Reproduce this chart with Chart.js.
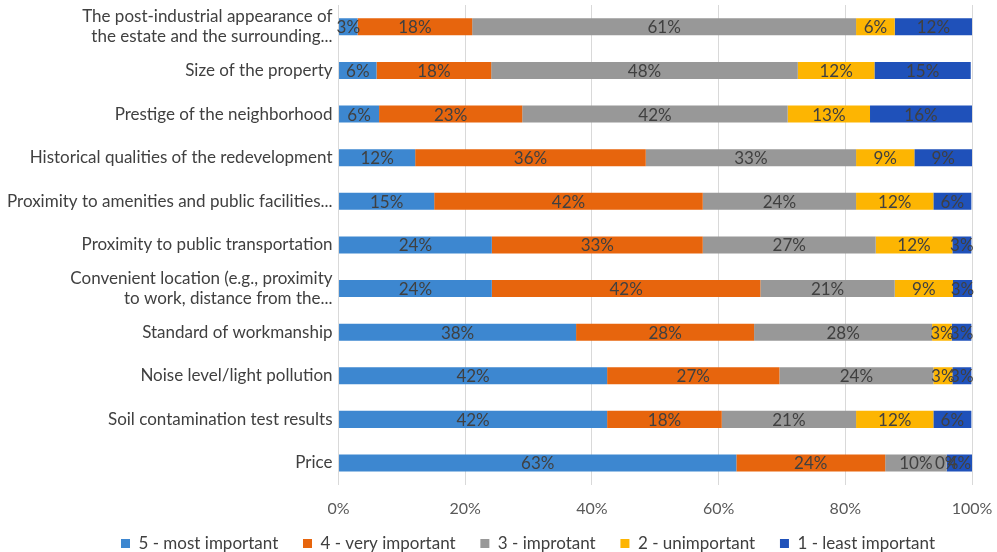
<!DOCTYPE html>
<html>
<head>
<meta charset="utf-8">
<script src="https://cdn.jsdelivr.net/npm/chart.js@4.4.1/dist/chart.umd.min.js"></script>
<style>
  html, body { margin: 0; padding: 0; background: #fff; }
  #wrap { width: 997px; height: 552px; position: relative; }
</style>
</head>
<body>
<div id="wrap"><canvas id="chart"></canvas></div>
<script>
// categories, top to bottom
const categories = [
  ['The post-industrial appearance of', 'the estate and the surrounding...'],
  'Size of the property',
  'Prestige of the neighborhood',
  'Historical qualities of the redevelopment',
  'Proximity to amenities and public facilities...',
  'Proximity to public transportation',
  ['Convenient location (e.g., proximity', 'to work, distance from the...'],
  'Standard of workmanship',
  'Noise level/light pollution',
  'Soil contamination test results',
  'Price'
];
const seriesNames = ['5 - most important', '4 - very important', '3 - improtant', '2 - unimportant', '1 - least important'];
const seriesColors = ['#3D87D0', '#E7650D', '#989898', '#FDB502', '#1F51BA'];

// percentages
const mostImportant  = [3.0, 6.0, 6.4, 12.1, 15.1, 24.2, 24.2, 37.5, 42.4, 42.4, 62.8];
const veryImportant  = [18.1, 18.1, 22.6, 36.4, 42.4, 33.3, 42.4, 28.1, 27.2, 18.1, 23.5];
const important      = [60.6, 48.4, 41.9, 33.2, 24.2, 27.3, 21.2, 28.1, 24.3, 21.2, 9.7];
const unimportant    = [6.1, 12.1, 13.0, 9.2, 12.2, 12.1, 9.2, 3.1, 3.0, 12.2, 0];
const leastImportant = [12.2, 15.2, 16.1, 9.1, 6.0, 3.0, 3.0, 3.1, 3.0, 6.0, 4.0];
const xTicks = [0, 20, 40, 60, 80, 100];

const allSeries = [mostImportant, veryImportant, important, unimportant, leastImportant];
const FONT = 'Lato, "Open Sans", sans-serif';

const barLabels = {
  id: 'barLabels',
  afterDatasetsDraw(chart) {
    const ctx = chart.ctx;
    ctx.save();
    ctx.font = '17px ' + FONT;
    ctx.fillStyle = '#404040';
    ctx.textAlign = 'center';
    ctx.textBaseline = 'middle';
    chart.data.datasets.forEach((ds, i) => {
      const meta = chart.getDatasetMeta(i);
      meta.data.forEach((el, j) => {
        const p = el.getCenterPoint();
        ctx.fillText(Math.round(ds.data[j]) + '%', p.x, p.y + 1);
      });
    });
    ctx.restore();
  }
};

// the legend sits a little right of centre in the original
const legendShift = {
  id: 'legendShift',
  afterLayout(chart) {
    chart.legend.left += 29;
    chart.legend.right += 29;
  }
};

new Chart(document.getElementById('chart'), {
  type: 'bar',
  data: {
    labels: categories,
    datasets: allSeries.map((d, i) => ({
      label: seriesNames[i],
      data: d,
      backgroundColor: seriesColors[i],
      borderWidth: 0,
      barPercentage: 0.78,
      categoryPercentage: 0.5
    }))
  },
  options: {
    indexAxis: 'y',
    responsive: true,
    maintainAspectRatio: false,
    animation: false,
    layout: { padding: { top: 0, right: 0, left: 1, bottom: -10 } },
    scales: {
      x: {
        stacked: true,
        min: 0, max: 100,
        afterBuildTicks: (axis) => { axis.ticks = xTicks.map(v => ({ value: v })); },
        afterFit: (s) => { s.paddingRight = 25; s.paddingLeft = 0; },
        grid: { color: '#D9D9D9', drawTicks: false },
        border: { display: false },
        ticks: { callback: v => v + '%', color: '#595959', font: { family: FONT, size: 16 }, padding: 14 }
      },
      y: {
        stacked: true,
        afterFit: (s) => { s.paddingTop = 5; s.paddingBottom = 0; },
        grid: { display: false, drawTicks: false },
        border: { display: false },
        ticks: { color: '#404040', font: { family: FONT, size: 17, lineHeight: 1.2 }, padding: 6, autoSkip: false }
      }
    },
    plugins: {
      legend: {
        position: 'bottom',
        labels: {
          boxWidth: 9, boxHeight: 9, color: '#404040', font: { family: FONT, size: 17 }, padding: 3,
          generateLabels: (chart) => Chart.defaults.plugins.legend.labels.generateLabels(chart).map((it, i, arr) => {
            if (i < arr.length - 1) it.text = it.text + '     ';
            return it;
          })
        }
      },
      tooltip: { enabled: false }
    }
  },
  plugins: [barLabels, legendShift]
});
</script>
</body>
</html>
